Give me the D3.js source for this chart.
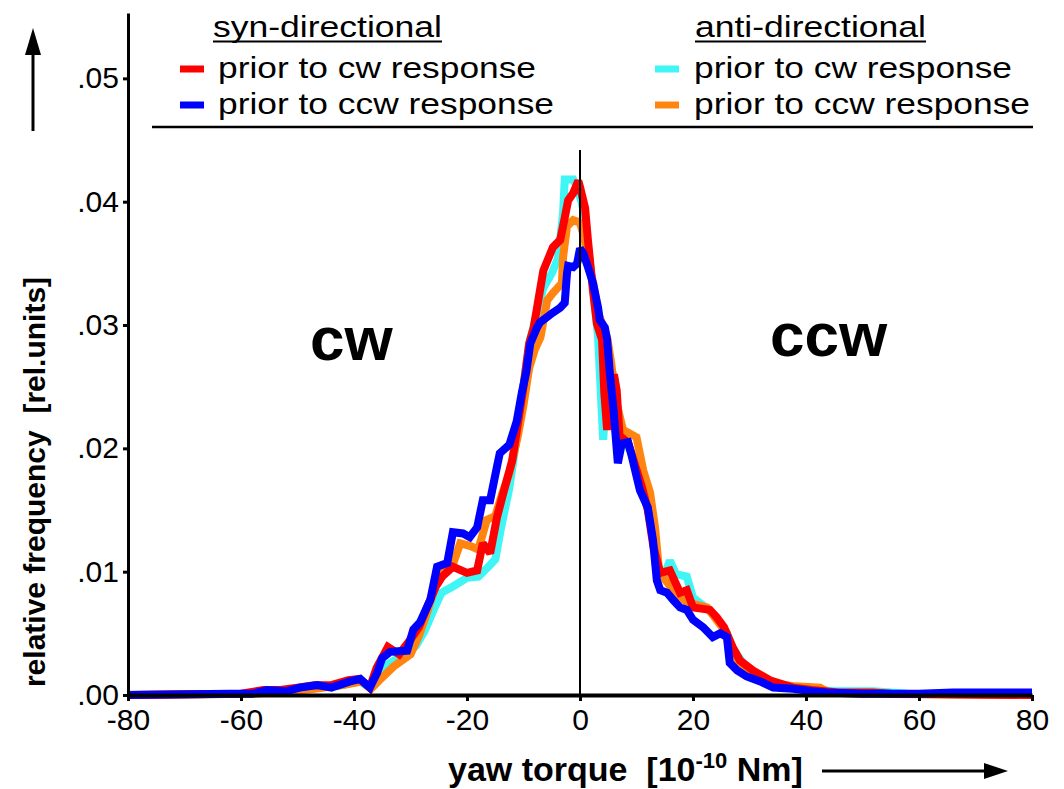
<!DOCTYPE html>
<html>
<head>
<meta charset="utf-8">
<script src="https://cdn.jsdelivr.net/npm/d3@7"></script>
<style>
  body { margin: 0; background: #fff; }
  text { font-family: "Liberation Sans", Arial, sans-serif; fill: #000; white-space: pre; }
</style>
</head>
<body>
<div class="chart"></div>
<script>
// Data (yaw torque in 10^-10 Nm, relative frequency)
let synCwX = [-80, -60, -56, -53, -50, -47, -44, -41, -39, -37.2, -36, -34, -32, -30, -28.5, -27, -25.5, -24.4, -22.5, -20, -18.2, -17.2, -15.9, -14.7, -13.5, -12, -11, -10, -9, -8.2, -7.6, -6.5, -4.8, -3.5, -2.7, -2.1, -1.2, -0.3, 0, 0.9, 1.4, 2.3, 3, 3.9, 4.3, 4.8, 5.4, 6, 6.5, 7, 8.5, 9.5, 11, 12, 13, 14.2, 15.9, 17.7, 18.9, 20, 23, 24.2, 25.5, 27, 28.3, 30.6, 33.6, 37.7, 41, 45.5, 51.9, 55, 80];
let synCwY = [0, 0.0001, 0.0004, 0.0004, 0.0006, 0.0008, 0.0008, 0.0012, 0.0013, 0.0006, 0.0022, 0.0039, 0.0033, 0.0045, 0.0055, 0.0072, 0.0088, 0.0096, 0.0104, 0.0099, 0.0101, 0.0123, 0.0115, 0.0144, 0.0165, 0.019, 0.022, 0.025, 0.0285, 0.0298, 0.0314, 0.0344, 0.0363, 0.0369, 0.0387, 0.0401, 0.0407, 0.0417, 0.0412, 0.0395, 0.0369, 0.0328, 0.0301, 0.0288, 0.0245, 0.0215, 0.0245, 0.026, 0.0247, 0.021, 0.0205, 0.019, 0.0168, 0.015, 0.012, 0.0099, 0.0101, 0.0083, 0.0085, 0.0071, 0.0069, 0.0063, 0.0055, 0.0039, 0.0028, 0.002, 0.0012, 0.0006, 0.0004, 0.0002, 0.0002, 0.0001, 0];

let synCcwX = [-80, -62, -58, -55.4, -52, -49.6, -46.5, -44, -40.7, -38.9, -37.2, -35.9, -35, -33.6, -30.6, -29.5, -28.3, -26.5, -25.3, -23.5, -22.5, -20.7, -19.5, -18.2, -17.2, -15.9, -14.7, -14.2, -12.5, -11.2, -10.3, -9.5, -8.8, -7.6, -7.1, -4.8, -3.5, -2.7, -2.3, -2.1, -1.2, -0.5, 0, 0.6, 1.4, 2.3, 3.2, 3.5, 4.4, 4.8, 5.3, 5.9, 6.7, 7.4, 8.5, 9.2, 10.6, 12, 12.9, 13.6, 14.2, 15.4, 16.5, 17.7, 18.9, 20, 21.8, 23.5, 24.8, 26, 26.5, 27.8, 29.5, 31.9, 34.2, 37.7, 41.2, 43.7, 50, 60, 66, 72, 80];
let synCcwY = [0, 0.0001, 0.0001, 0.0004, 0.0003, 0.0006, 0.0008, 0.0006, 0.0011, 0.0013, 0.0006, 0.0018, 0.003, 0.0035, 0.0036, 0.0053, 0.0059, 0.0077, 0.0104, 0.0107, 0.0132, 0.0131, 0.0128, 0.0136, 0.0158, 0.0158, 0.0185, 0.0196, 0.0203, 0.0222, 0.0245, 0.0262, 0.0285, 0.0298, 0.0302, 0.031, 0.0314, 0.0318, 0.0342, 0.0348, 0.0347, 0.035, 0.0362, 0.0358, 0.0347, 0.0334, 0.0314, 0.0304, 0.0298, 0.0288, 0.026, 0.0233, 0.0188, 0.0204, 0.0205, 0.0193, 0.0166, 0.0152, 0.0126, 0.0093, 0.0085, 0.0083, 0.0077, 0.0071, 0.0069, 0.0061, 0.0055, 0.0047, 0.005, 0.0047, 0.0026, 0.002, 0.0015, 0.0011, 0.0006, 0.0005, 0.0003, 0.0002, 0.0001, 0.0001, 0.0002, 0.0002, 0.0002];

let antiCwX = [-80, -58, -54, -50, -46, -42, -39, -37.2, -35.5, -34, -31, -29, -27.5, -26, -24.5, -22.5, -20, -18, -16, -15, -14, -12.5, -11, -10, -9, -7.6, -6.5, -5, -3.9, -3, -2.7, -1.2, -0.3, 0.5, 1.2, 2.3, 3.2, 4.1, 4.6, 5.5, 6.2, 7, 8, 10, 11.5, 13, 14, 15, 15.9, 17, 18.9, 20, 22, 24, 26, 27, 29, 31, 34, 38, 45, 52, 58, 80];
let antiCwY = [0, 0.0001, 0.0003, 0.0004, 0.0006, 0.0008, 0.0011, 0.0006, 0.0015, 0.0025, 0.0033, 0.004, 0.0052, 0.0068, 0.0083, 0.0088, 0.0095, 0.0096, 0.0105, 0.011, 0.0135, 0.0168, 0.0215, 0.0252, 0.0285, 0.031, 0.033, 0.0342, 0.0354, 0.039, 0.0418, 0.0418, 0.041, 0.0395, 0.037, 0.033, 0.029, 0.0207, 0.024, 0.0265, 0.0255, 0.021, 0.0205, 0.019, 0.0165, 0.0125, 0.0095, 0.0098, 0.0109, 0.0098, 0.0096, 0.0079, 0.0072, 0.0063, 0.005, 0.0038, 0.0025, 0.0018, 0.001, 0.0006, 0.0003, 0.0003, 0.0001, 0];

let antiCcwX = [-80, -58, -55, -51, -47, -42, -38.5, -37, -35.5, -33, -30, -28.5, -27, -25.5, -24, -22.5, -21.2, -19.5, -18, -16.5, -15, -14, -12.5, -11, -10, -9, -8, -7, -5.8, -4.8, -3.2, -3, -2.3, -1.2, 0, 0.8, 1.5, 2.3, 3.2, 4, 4.8, 5.5, 6.3, 7.6, 10, 11.2, 12.4, 13.3, 14, 16.5, 19, 22.5, 24, 26, 27, 29, 32, 35, 38, 42.5, 44, 50, 80];
let antiCcwY = [0, 0.0001, 0.0002, 0.0003, 0.0005, 0.0008, 0.0011, 0.0005, 0.0012, 0.0023, 0.0033, 0.0048, 0.0068, 0.009, 0.0105, 0.0106, 0.0123, 0.0121, 0.0118, 0.0142, 0.0145, 0.016, 0.018, 0.021, 0.0235, 0.0265, 0.028, 0.029, 0.032, 0.0326, 0.0334, 0.0355, 0.038, 0.0385, 0.0383, 0.037, 0.035, 0.0335, 0.031, 0.03, 0.029, 0.027, 0.024, 0.0215, 0.0209, 0.0182, 0.0164, 0.0135, 0.01, 0.0085, 0.0075, 0.0071, 0.0062, 0.005, 0.003, 0.0022, 0.0014, 0.0009, 0.0007, 0.0006, 0.0002, 0.0001, 0];

let xTicks = [-80, -60, -40, -20, 0, 20, 40, 60, 80];
let yTicks = [0, 0.01, 0.02, 0.03, 0.04, 0.05];
let yTickLabels = [".00", ".01", ".02", ".03", ".04", ".05"];

let legendLabels = ["prior to cw response", "prior to ccw response"];

// Series table, drawn bottom to top (blue ends up on top)
let series = [
    { name: "anti cw", xs: antiCwX, ys: antiCwY, color: "#3ff5f5" },
    { name: "anti ccw", xs: antiCcwX, ys: antiCcwY, color: "#ff8410" },
    { name: "syn cw", xs: synCwX, ys: synCwY, color: "#ff0000" },
    { name: "syn ccw", xs: synCcwX, ys: synCcwY, color: "#0000ff" }
];

let svgWidth = 1064;
let svgHeight = 789;

let svg = d3.select(".chart")
    .append("svg")
    .attr("width", svgWidth)
    .attr("height", svgHeight);

// Scales
let xScale = d3.scaleLinear().domain([-80, 80]).range([128, 1032]);
let yScale = d3.scaleLinear().domain([0, 0.0553]).range([695, 13]);

// Curves
let line = d3.line()
    .x(d => xScale(d[0]))
    .y(d => yScale(d[1]));

series.forEach(function(s) {
    let pts = s.xs.map((v, i) => [v, s.ys[i]]);
    svg.append("path")
        .datum(pts)
        .attr("d", line)
        .attr("fill", "none")
        .attr("stroke", s.color)
        .attr("stroke-width", 8)
        .attr("stroke-linejoin", "miter")
        .attr("stroke-miterlimit", 2);
});

// Zero line
svg.append("line")
    .attr("x1", xScale(0)).attr("x2", xScale(0))
    .attr("y1", 150).attr("y2", yScale(0))
    .attr("stroke", "#000")
    .attr("stroke-width", 2);

// Axes
let bottomAxis = d3.axisBottom(xScale)
    .tickValues(xTicks)
    .tickFormat(d => String(d))
    .tickSize(6)
    .tickSizeOuter(0)
    .tickPadding(8);

let xAxis = svg.append("g")
    .attr("transform", `translate(0, ${yScale(0)})`)
    .call(bottomAxis);
xAxis.select(".domain").attr("stroke-width", 4);
xAxis.selectAll(".tick line").attr("stroke-width", 3);
xAxis.selectAll("text")
    .attr("font-size", 30)
    .attr("font-family", "Liberation Sans, Arial, sans-serif");

let leftAxis = d3.axisLeft(yScale)
    .tickValues(yTicks)
    .tickFormat((d, i) => yTickLabels[i])
    .tickSize(5)
    .tickSizeOuter(0)
    .tickPadding(4);

let yAxis = svg.append("g")
    .attr("transform", `translate(${xScale(-80)}, 0)`)
    .call(leftAxis);
yAxis.select(".domain").attr("stroke-width", 3);
yAxis.selectAll(".tick line").attr("stroke-width", 3);
yAxis.selectAll("text")
    .attr("font-size", 30)
    .attr("font-family", "Liberation Sans, Arial, sans-serif");

// Big "cw" / "ccw" labels
svg.append("text")
    .attr("x", 310).attr("y", 360)
    .attr("font-size", 62)
    .attr("font-weight", "bold")
    .text("cw");

svg.append("text")
    .attr("x", 770).attr("y", 356)
    .attr("font-size", 62)
    .attr("font-weight", "bold")
    .text("ccw");

// Legend
let legendCols = [
    { title: "syn-directional", tx: 213, tw: 229, sx: 180, lx: 218, colors: ["#ff0000", "#0000ff"] },
    { title: "anti-directional", tx: 695, tw: 231, sx: 655, lx: 694, colors: ["#3ff5f5", "#ff8410"] }
];
let rowY = [78, 114];
let rowW = [318, 336];

legendCols.forEach(function(c) {
    svg.append("text")
        .attr("x", c.tx).attr("y", 37)
        .attr("font-size", 29)
        .attr("textLength", c.tw)
        .attr("lengthAdjust", "spacingAndGlyphs")
        .text(c.title);
    svg.append("line")
        .attr("x1", c.tx).attr("x2", c.tx + c.tw)
        .attr("y1", 41.5).attr("y2", 41.5)
        .attr("stroke", "#000")
        .attr("stroke-width", 2);

    legendLabels.forEach(function(lbl, i) {
        svg.append("line")
            .attr("x1", c.sx).attr("x2", c.sx + 24)
            .attr("y1", rowY[i] - 9).attr("y2", rowY[i] - 9)
            .attr("stroke", c.colors[i])
            .attr("stroke-width", 7);
        svg.append("text")
            .attr("x", c.lx).attr("y", rowY[i])
            .attr("font-size", 29)
            .attr("textLength", rowW[i])
            .attr("lengthAdjust", "spacingAndGlyphs")
            .text(lbl);
    });
});

svg.append("line")
    .attr("x1", 152).attr("x2", 1033)
    .attr("y1", 127).attr("y2", 127)
    .attr("stroke", "#000")
    .attr("stroke-width", 2.5);

// Y axis title with arrow
svg.append("text")
    .attr("transform", "translate(45, 482) rotate(-90)")
    .attr("text-anchor", "middle")
    .attr("font-size", 30)
    .attr("font-weight", "bold")
    .text("relative frequency  [rel.units]");

svg.append("line")
    .attr("x1", 33).attr("x2", 33)
    .attr("y1", 131).attr("y2", 50)
    .attr("stroke", "#000")
    .attr("stroke-width", 3);
svg.append("path")
    .attr("d", "M33,28 L41,55 L25,55 Z")
    .attr("fill", "#000");

// X axis title with arrow
let xTitle = svg.append("text")
    .attr("x", 448).attr("y", 781)
    .attr("font-size", 34)
    .attr("font-weight", "bold");
xTitle.append("tspan").text("yaw torque  [10");
xTitle.append("tspan").attr("font-size", 22).attr("dy", -13).text("-10");
xTitle.append("tspan").attr("dy", 13).text(" Nm]");

svg.append("line")
    .attr("x1", 822).attr("x2", 990)
    .attr("y1", 771).attr("y2", 771)
    .attr("stroke", "#000")
    .attr("stroke-width", 3);
svg.append("path")
    .attr("d", "M1008,771 L984,763 L984,779 Z")
    .attr("fill", "#000");
</script>
</body>
</html>
